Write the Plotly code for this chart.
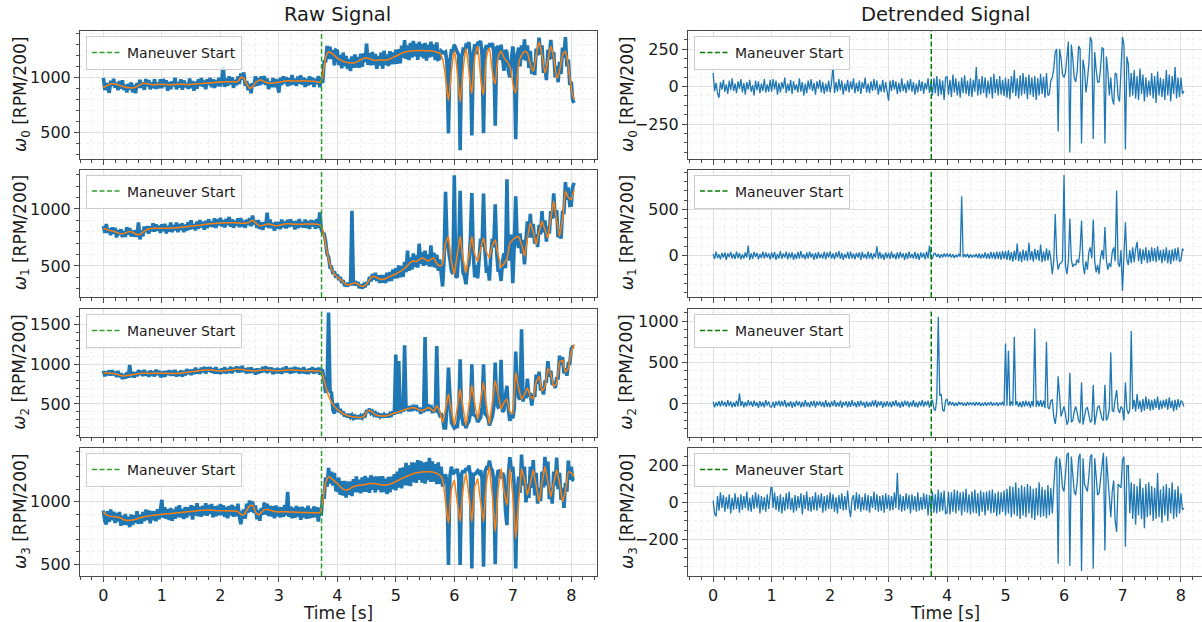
import numpy as np
import plotly.graph_objects as go

# ---------------------------------------------------------------------------
# Rotor speed data, sampled every 25 ms from 0.000 s to 8.050 s (323 samples,
# 40 per row = one second per row, plus the last three samples).
# TREND_* is the smoothed speed, DET_* the detrended residual; the raw speed
# is trend + residual.
# ---------------------------------------------------------------------------
TIME_STEP = 0.025
MANEUVER_T = 3.73

TREND_W0 = [
    905, 914, 922, 929, 935, 939, 942, 941, 940, 936, 932, 927, 922, 918, 914, 911, 908, 906, 904, 903, 903, 906, 910, 917, 925, 933, 940, 944, 946, 944, 942, 939, 936, 934, 933, 933, 934, 935, 936, 936,
    936, 935, 935, 934, 933, 932, 932, 933, 934, 935, 936, 937, 938, 937, 937, 936, 935, 934, 934, 935, 936, 937, 938, 939, 940, 941, 942, 943, 944, 945, 946, 947, 948, 949, 950, 951, 953, 954, 955, 956,
    957, 957, 958, 958, 959, 959, 960, 960, 960, 959, 958, 958, 962, 980, 1000, 998, 990, 968, 940, 918, 900, 905, 915, 932, 950, 962, 972, 974, 975, 969, 962, 956, 950, 947, 945, 946, 948, 950, 952, 953,
    955, 957, 960, 963, 966, 967, 968, 968, 967, 966, 966, 966, 966, 966, 967, 967, 968, 968, 967, 966, 966, 965, 965, 964, 963, 960, 958, 956, 955, 970, 1010, 1100, 1180, 1215, 1232, 1228, 1220, 1210, 1198, 1186,
    1175, 1166, 1158, 1151, 1145, 1141, 1138, 1135, 1132, 1131, 1130, 1131, 1133, 1138, 1145, 1152, 1160, 1166, 1172, 1175, 1176, 1174, 1170, 1165, 1160, 1156, 1152, 1153, 1155, 1158, 1160, 1158, 1156, 1157, 1158, 1163, 1168, 1174, 1180, 1186,
    1192, 1198, 1205, 1212, 1218, 1223, 1228, 1232, 1235, 1237, 1238, 1239, 1240, 1241, 1242, 1243, 1243, 1243, 1243, 1243, 1242, 1242, 1242, 1241, 1240, 1238, 1235, 1232, 1228, 1224, 1220, 1200, 1170, 1100, 1000, 880, 790, 900, 1050, 1160,
    1236, 1170, 1050, 900, 776, 900, 1060, 1180, 1260, 1180, 1050, 930, 850, 1020, 1180, 1250, 1280, 1160, 1000, 900, 842, 1020, 1180, 1240, 1265, 1170, 1050, 980, 940, 1070, 1180, 1220, 1236, 1210, 1180, 1160, 1145, 1125, 1100, 1030,
    950, 890, 858, 990, 1120, 1170, 1200, 1222, 1235, 1232, 1220, 1175, 1120, 1080, 1055, 1120, 1200, 1270, 1320, 1270, 1200, 1120, 1040, 1085, 1150, 1220, 1280, 1240, 1180, 1090, 994, 1015, 1060, 1130, 1200, 1225, 1236, 1180, 1100, 1000,
    900, 840, 797,
]
DET_W0 = [
    90, -30, 25, -45, -75, 30, -20, 45, -35, 15, -50, 40, -25, 55, -30, 20, -45, 35, -15, 50, -40, 25, -55, 30, -20, 45, -35, 10, -60, 40, -25, 35, -45, 20, -30, 50, -40, 15, -35, 45,
    -35, 50, -20, 40, -55, 25, -40, 30, -15, 60, -45, 20, -30, 45, -50, 35, -25, 15, -40, 55, -35, 30, -60, 20, -45, 40, -20, 50, -30, 25, -55, 35, -15, 45, -40, 30, -50, 20, -35, 40,
    -40, 25, 140, -45, 30, -35, 50, -25, 40, -55, 20, -30, 45, -40, 35, -20, 55, -45, 25, -35, 40, -50, 30, -15, 60, -40, 20, -45, 35, -30, 50, -25, 40, -55, 15, -35, 45, -40, 30, -20,
    -95, 40, -30, 45, -20, 35, -50, 25, -40, 55, -30, 20, -45, 40, -25, 50, -35, 30, -55, 20, -40, 45, -30, 35, -50, 25, -20, 55, -45, 30, -60, 55, -45, 70, -65, 50, -55, 40, -90, 60,
    65, -55, 45, -70, 80, -40, 55, -60, 35, -75, 60, -45, 75, -50, 40, -65, 55, -70, 45, -35, 130, -60, 50, -55, 70, -45, 60, -75, 40, -50, 65, -80, 85, -45, 50, -60, 70, -55, 45, -65,
    60, -75, 50, -85, 70, -45, 110, -65, 55, -80, 75, -60, 90, -50, 65, -85, 80, -55, 60, -70, 70, -90, 55, -60, 85, -50, 65, -75, 90, -60, -50, 40, 60, 120, 230, 250, -300, 250, 190, 80,
    60, 90, 180, 300, -440, 280, 190, 60, 30, 100, 270, 250, -380, 180, 120, -40, 40, 150, 330, 300, -350, 230, 110, 30, 30, 120, 260, 250, -380, 200, 100, -60, 60, -80, -120, 90, 80, -70, -100, 120,
    330, 280, -420, 200, 150, -70, 90, -60, 110, -80, 70, -90, 120, -50, 80, -100, 60, -70, 40, -60, 90, -80, 70, -110, 100, -60, 60, -70, 50, -90, 110, -60, 80, -100, 70, -50, 130, -80, 60, -70,
    60, -50, -30,
]

TREND_W1 = [
    830, 826, 822, 817, 812, 810, 808, 804, 800, 795, 790, 786, 782, 783, 785, 790, 795, 799, 802, 799, 795, 788, 780, 776, 772, 778, 785, 795, 805, 812, 820, 824, 828, 829, 830, 830, 830, 830, 830, 830,
    830, 830, 830, 830, 831, 831, 832, 832, 833, 834, 835, 836, 838, 839, 840, 841, 843, 844, 846, 848, 850, 851, 852, 853, 855, 856, 858, 860, 862, 864, 866, 867, 869, 870, 871, 872, 873, 874, 875, 876,
    877, 877, 878, 878, 879, 879, 880, 880, 880, 880, 879, 878, 877, 876, 875, 874, 874, 875, 876, 880, 885, 894, 902, 892, 880, 868, 858, 854, 852, 856, 860, 864, 868, 867, 866, 862, 858, 855, 852, 853,
    855, 858, 862, 865, 868, 869, 870, 870, 869, 868, 867, 866, 866, 866, 866, 866, 867, 867, 868, 868, 869, 869, 869, 869, 868, 867, 866, 863, 860, 845, 820, 760, 690, 620, 560, 515, 475, 450, 428, 414,
    400, 392, 383, 372, 360, 349, 338, 336, 335, 340, 345, 349, 352, 346, 340, 332, 325, 323, 322, 330, 340, 360, 380, 395, 408, 407, 405, 398, 392, 386, 381, 383, 385, 390, 395, 401, 408, 414, 420, 425,
    430, 437, 445, 452, 460, 470, 480, 492, 505, 518, 530, 538, 545, 541, 538, 546, 555, 563, 571, 566, 560, 550, 540, 550, 560, 566, 571, 545, 520, 509, 498, 505, 520, 610, 700, 730, 760, 650, 540, 480,
    425, 510, 600, 680, 760, 660, 560, 500, 440, 520, 600, 680, 760, 680, 600, 570, 541, 595, 650, 700, 746, 680, 620, 595, 571, 625, 680, 705, 731, 665, 600, 545, 489, 505, 520, 540, 560, 630, 700, 715,
    730, 740, 750, 755, 760, 725, 690, 640, 585, 660, 740, 810, 877, 840, 800, 745, 688, 745, 800, 846, 892, 856, 820, 783, 746, 833, 920, 995, 1067, 985, 900, 830, 760, 830, 900, 1030, 1155, 1130, 1100, 1090,
    1082, 1125, 1169,
]
DET_W1 = [
    20, -35, 45, -25, 15, -40, 30, -20, 35, -45, 25, -15, 40, -30, 20, -35, 45, -25, 30, -40, 15, -30, 35, -20, 110, -45, 25, -35, 40, -15, 30, -40, 20, -25, 45, -30, 35, -20, 25, -40,
    35, -25, 40, -45, 20, -30, 50, -35, 25, -20, 45, -40, 30, -25, 35, -45, 20, -35, 40, -30, 50, -25, 15, -40, 35, -30, 45, -20, 25, -45, 30, -35, 40, -25, 20, -30, 45, -40, 35, -20,
    45, -30, 25, -40, 35, -20, 50, -35, 30, -45, 20, -25, 40, -35, 45, -30, 25, -40, 30, -20, 35, -45, 40, -25, 20, -35, 45, -30, 30, -40, 25, -20, 100, -35, 40, -30, 20, -45, 35, -25,
    30, -35, 45, -25, 20, -40, 35, -30, 40, -20, 25, -45, 30, -35, 45, -25, 20, -30, 40, -35, 25, -45, 35, -20, 30, -40, 45, -30, 110, -25, -30, 20, 25, -15, 20, -25, 15, -20, 25, -15,
    25, -15, 20, -20, 15, -25, 10, -15, 20, -10, 640, -20, 15, -15, 20, -25, 15, -20, 10, -15, 20, -25, 25, -30, 20, -25, 35, -30, 25, -35, 40, -30, 35, -40, 45, -35, 40, -45, 50, -35,
    50, -45, 60, -50, 40, -65, 55, -45, 130, -60, 45, -70, 65, -50, 55, -60, 140, -45, 50, -65, 75, -40, 60, -55, 120, -70, 45, -60, 80, -50, 60, -40, -200, -50, 450, -10, -150, -90, -80, -50,
    870, -100, -200, -60, 400, -40, -120, -90, -100, -40, -80, 60, 380, -80, -200, -60, -150, 40, 90, -30, 390, -60, -180, -100, -200, -20, 60, -40, 310, -50, -150, -80, -120, 40, 90, -60, 700, -80, -120, 60,
    -380, -60, 360, -40, -100, 60, -80, 90, -70, 70, 150, -60, 80, -90, 70, -50, 90, -80, 60, -70, 90, -60, 80, -70, 100, -50, 60, -80, 70, -60, 90, -80, 60, -90, 70, -60, 80, -50, 90, -60,
    -50, 70, 60,
]

TREND_W2 = [
    887, 889, 890, 889, 888, 887, 885, 883, 880, 875, 870, 864, 858, 855, 853, 855, 858, 860, 861, 865, 868, 872, 875, 879, 882, 885, 887, 887, 887, 887, 886, 886, 885, 885, 886, 886, 887, 887, 887, 887,
    887, 887, 886, 886, 885, 885, 884, 884, 884, 884, 885, 886, 887, 888, 890, 892, 895, 898, 900, 902, 905, 908, 910, 913, 916, 918, 920, 922, 925, 927, 929, 929, 929, 928, 927, 925, 922, 920, 918, 917,
    916, 916, 917, 918, 920, 922, 925, 928, 930, 932, 935, 936, 937, 936, 935, 933, 930, 928, 925, 922, 920, 918, 915, 915, 915, 917, 920, 922, 925, 927, 929, 929, 929, 927, 925, 922, 920, 919, 918, 918,
    918, 919, 920, 922, 925, 927, 929, 929, 929, 928, 927, 926, 925, 923, 922, 921, 920, 919, 918, 918, 918, 918, 918, 918, 917, 916, 916, 916, 916, 900, 870, 800, 720, 660, 600, 560, 520, 495, 470, 450,
    433, 418, 405, 392, 380, 370, 360, 354, 348, 344, 340, 337, 335, 333, 332, 331, 330, 335, 345, 370, 395, 410, 420, 410, 395, 380, 365, 358, 352, 351, 350, 350, 349, 350, 352, 357, 362, 371, 380, 386,
    391, 395, 400, 408, 415, 422, 428, 434, 440, 445, 450, 452, 454, 450, 445, 435, 425, 420, 415, 423, 432, 444, 455, 448, 440, 422, 405, 445, 479, 450, 420, 340, 270, 350, 440, 540, 625, 520, 420, 320,
    229, 340, 450, 570, 687, 570, 450, 340, 229, 355, 480, 610, 737, 620, 500, 400, 312, 430, 550, 660, 771, 625, 480, 365, 250, 385, 520, 655, 792, 710, 620, 530, 437, 480, 520, 540, 562, 480, 400, 390,
    380, 640, 900, 800, 700, 630, 560, 590, 620, 660, 700, 650, 600, 580, 565, 670, 780, 815, 846, 750, 660, 690, 720, 835, 950, 915, 880, 800, 720, 740, 760, 895, 1030, 1040, 1050, 975, 900, 925, 950, 1050,
    1150, 1200, 1250,
]
DET_W2 = [
    30, -40, 20, -25, 35, -30, 40, -20, 25, -35, 45, -25, 30, -40, 20, -35, 40, -30, 130, -25, 35, -40, 25, -30, 45, -20, 30, -35, 40, -25, 20, -45, 35, -30, 25, -40, 45, -20, 30, -35,
    -35, 25, -45, 30, -20, 40, -30, 35, -25, 45, -40, 20, -30, 35, -45, 25, -35, 40, -20, 30, -40, 25, -35, 45, -30, 20, -40, 35, -25, 40, -45, 30, -20, 35, -30, 25, -40, 45, -35, 20,
    -40, 30, -25, 45, -35, 20, -30, 40, -45, 25, -20, 35, -40, 30, -35, 45, -25, 20, -40, 35, -30, 40, -20, 25, -45, 30, -35, 20, -30, 40, -25, 45, -40, 30, -20, 35, -45, 25, -30, 35,
    -30, 25, -40, 35, -25, 45, -30, 20, -45, 30, -35, 40, -20, 35, -40, 25, -30, 45, -35, 20, -40, 30, -25, 45, -35, 30, -20, 40, -45, 30, 50, -60, -80, 60, 1050, 100, 120, -70, -90, 40,
    60, -20, 30, -15, 20, -25, 15, -20, 25, -10, 20, -15, 10, -20, 25, -15, 20, -10, 15, -20, 25, -15, 20, -25, 10, -15, 20, -20, 15, -10, 25, -20, 15, -15, 20, -25, 15, -10, 25, -20,
    730, -20, 640, -25, 30, -20, 810, -15, 30, -35, 25, -40, 35, -30, 40, -25, 30, -45, 35, -30, 910, -35, 40, -30, 45, -35, 40, -50, 750, -40, -60, 40, 50, -150, -240, -100, 333, 100, -150, -90,
    -30, -120, -250, -200, 375, -220, -200, -90, -30, -100, -200, -230, 263, -250, -150, -60, -40, -120, -220, -200, 229, -250, -120, -40, -20, -100, -180, -200, 230, -200, -160, -60, 620, -80, -90, 60, 167, -60, -110, -30,
    -60, -200, 260, -60, -120, -70, 880, -60, 50, -90, 120, -60, 40, -100, 60, -80, 90, -60, 60, -80, 50, -70, 60, -50, 90, -70, 40, -60, 50, -40, 60, -70, 80, -50, 40, -90, 50, -70, 60, -40,
    40, 20, -30,
]

TREND_W3 = [
    920, 905, 895, 890, 885, 883, 882, 881, 880, 879, 878, 873, 868, 862, 856, 853, 850, 851, 852, 853, 854, 857, 860, 864, 868, 872, 875, 878, 880, 882, 884, 886, 888, 890, 892, 893, 894, 895, 896, 898,
    900, 901, 902, 903, 904, 905, 906, 907, 908, 909, 910, 911, 913, 914, 916, 917, 918, 919, 920, 921, 922, 923, 925, 926, 928, 929, 930, 931, 932, 932, 933, 933, 933, 932, 932, 931, 930, 929, 928, 928,
    928, 928, 928, 928, 928, 927, 926, 925, 925, 925, 926, 924, 920, 910, 900, 895, 895, 910, 930, 948, 965, 970, 973, 950, 920, 905, 895, 903, 915, 925, 935, 937, 939, 936, 932, 928, 925, 922, 920, 919,
    918, 919, 920, 920, 920, 920, 919, 918, 918, 918, 918, 917, 917, 916, 916, 915, 915, 914, 914, 914, 914, 913, 913, 913, 913, 912, 912, 912, 912, 940, 1000, 1080, 1150, 1180, 1200, 1195, 1185, 1175, 1165, 1155,
    1146, 1133, 1120, 1110, 1100, 1096, 1093, 1096, 1100, 1107, 1115, 1120, 1125, 1128, 1130, 1131, 1133, 1134, 1135, 1137, 1140, 1143, 1146, 1146, 1146, 1145, 1144, 1142, 1140, 1137, 1135, 1134, 1133, 1134, 1136, 1138, 1140, 1145, 1150, 1155,
    1160, 1166, 1172, 1179, 1186, 1190, 1195, 1200, 1205, 1210, 1215, 1220, 1226, 1228, 1230, 1232, 1235, 1236, 1238, 1238, 1239, 1239, 1240, 1240, 1239, 1237, 1235, 1230, 1225, 1219, 1213, 1200, 1180, 1100, 1000, 900, 827, 960, 1100, 1140,
    1173, 1090, 1000, 920, 840, 970, 1100, 1170, 1226, 1140, 1050, 945, 840, 980, 1120, 1150, 1186, 1090, 1000, 920, 840, 1000, 1150, 1220, 1279, 1160, 1050, 900, 761, 930, 1100, 1180, 1266, 1170, 1080, 1030, 973, 1120, 1266, 1160,
    1050, 880, 707, 850, 1000, 1130, 1266, 1220, 1180, 1115, 1053, 1100, 1150, 1200, 1253, 1190, 1130, 1065, 1000, 1075, 1150, 1215, 1279, 1220, 1160, 1100, 1040, 1095, 1150, 1200, 1253, 1200, 1150, 1075, 1000, 1040, 1080, 1160, 1239, 1235,
    1230, 1215, 1200,
]
DET_W3 = [
    10, -60, -75, 35, -45, 55, -30, 40, -50, 30, -35, 45, -60, 25, -40, 50, -35, 30, -55, 45, -40, 35, -30, 60, -45, 25, -50, 40, -35, 55, -30, 45, -60, 35, -40, 30, -50, 45, -35, 40,
    115, -30, 55, -40, 35, -50, 45, -60, 30, -45, 50, -35, 60, -40, 25, -55, 40, -45, 35, -30, 50, -65, 40, -35, 60, -45, 30, -50, 35, -40, 55, -45, 40, -30, 50, -55, 35, -45, 40, -35,
    55, -35, 45, -50, 30, -60, 40, -35, 50, -45, 35, -40, 65, -30, -80, 20, 40, -45, 55, -35, 45, -50, 30, -40, 50, -45, 40, -55, 35, -30, 60, -40, 45, -50, 35, -45, 40, -55, 50, -35,
    40, -45, 35, -40, 55, -30, 160, -40, 45, -50, 35, -45, 50, -35, 40, -60, 45, -40, 35, -50, 55, -45, 30, -40, 50, -35, 45, -70, 40, -50, 60, -55, 45, -60, 70, -50, 55, -45, 65, -60,
    -55, 60, -65, 55, -50, 70, -60, 65, -45, 55, -70, 60, -50, 75, -55, 45, -65, 60, -55, 70, -60, 50, -75, 65, -50, 55, -70, 60, -45, 65, -60, 70, -55, 50, -75, 60, -65, 55, -50, 65,
    -70, 75, -60, 90, -80, 85, -65, 110, -75, 80, -90, 95, -70, 85, -80, 100, -60, 90, -85, 75, -95, 80, -70, 110, -80, 85, -75, 70, -85, 95, -70, 80, -60, 80, 220, 250, -332, 240, 180, 80,
    60, 150, 260, 270, -345, 250, 150, 60, 40, 110, 240, 265, -372, 240, 100, 80, 60, 140, 250, 260, -359, 240, 120, 40, 50, 110, 200, 270, -260, 250, 150, 60, -80, 60, 120, -100, -160, 100, 90, 80,
    230, 250, -240, 200, 200, -60, 110, -90, 100, -120, 90, -70, 130, -90, 80, -140, 100, -80, 110, -70, 90, -100, 80, -90, 160, -80, 70, -110, 90, -70, 100, -100, 80, -60, 110, -90, 70, -80, 90, -60,
    50, -40, -30,
]

TRENDS = [TREND_W0, TREND_W1, TREND_W2, TREND_W3]
DETS = [DET_W0, DET_W1, DET_W2, DET_W3]
CHANNEL_IDS = ["0", "1", "2", "3"]

RAW_YRANGE = [[257, 1421], [228, 1346], [91, 1695], [407, 1429]]
DET_YRANGE = [[-483, 370], [-445, 929], [-392, 1145], [-399, 296]]
RAW_DTICK = [500, 500, 500, 500]
RAW_MINOR = [100, 100, 100, 100]
DET_DTICK = [250, 500, 500, 200]
DET_MINOR = [62.5, 100, 100, 50]

# ---------------------------------------------------------------------------
# Figure geometry (pixels in a 1202 x 622 page)
# ---------------------------------------------------------------------------
W, H = 1202, 622
COL_PX = [(80, 597), (688, 1202)]
ROW_PX = [(31, 159), (169.5, 297), (309, 436.5), (448, 576)]
X_RANGES = [[-0.40, 8.44], [-0.43, 8.36]]
COL_CENTER = [338, 945]

BLUE = "#1f77b4"
ORANGE = "#ff7f0e"
GREENS = ["#2ca02c", "#008000"]
FONT = "DejaVu Sans"
TEXT_COLOR = "#1a1a1a"
FRAME = "#4a4a4a"

fig = go.Figure()
layout = dict(
    width=W, height=H,
    margin=dict(l=0, r=0, t=0, b=0),
    paper_bgcolor="white", plot_bgcolor="white",
    showlegend=True,
    font=dict(family=FONT, color=TEXT_COLOR),
)
annotations = []

for r in range(4):
    trend = np.array(TRENDS[r], dtype=float)
    det = np.array(DETS[r], dtype=float)
    n = min(len(trend), len(det))
    trend, det = trend[:n], det[:n]
    t = np.arange(n) * TIME_STEP
    raw = trend + det
    for c in range(2):
        k = r * 2 + c + 1
        xname = "x" if k == 1 else f"x{k}"
        yname = "y" if k == 1 else f"y{k}"
        lname = "legend" if k == 1 else f"legend{k}"
        x0p, x1p = COL_PX[c]
        y0p, y1p = ROW_PX[r]

        if c == 0:
            fig.add_trace(go.Scatter(
                x=t, y=raw, mode="lines", xaxis=xname, yaxis=yname,
                line=dict(color=BLUE, width=3.6), showlegend=False, hoverinfo="skip"))
            fig.add_trace(go.Scatter(
                x=t, y=trend, mode="lines", xaxis=xname, yaxis=yname,
                line=dict(color=ORANGE, width=1.5, shape="spline", smoothing=0.5),
                showlegend=False, hoverinfo="skip"))
            yr, dt, mn = RAW_YRANGE[r], RAW_DTICK[r], RAW_MINOR[r]
        else:
            fig.add_trace(go.Scatter(
                x=t, y=raw - trend, mode="lines", xaxis=xname, yaxis=yname,
                line=dict(color=BLUE, width=1.3), showlegend=False, hoverinfo="skip"))
            yr, dt, mn = DET_YRANGE[r], DET_DTICK[r], DET_MINOR[r]

        # maneuver start marker, listed in this panel's own legend
        fig.add_trace(go.Scatter(
            x=[MANEUVER_T, MANEUVER_T], y=yr, mode="lines", xaxis=xname, yaxis=yname,
            line=dict(color=GREENS[c], width=1.5, dash="5px,2.5px"),
            name="Maneuver Start", legend=lname, showlegend=True, hoverinfo="skip"))

        common = dict(
            showline=True, mirror=True, linecolor=FRAME, linewidth=1,
            ticks="outside", ticklen=5, tickwidth=1, tickcolor=FRAME,
            showgrid=True, gridcolor="#e0e0e0", gridwidth=1, zeroline=False,
            tickfont=dict(family=FONT, size=16, color=TEXT_COLOR),
        )
        layout["xaxis" if k == 1 else f"xaxis{k}"] = dict(
            common, domain=[x0p / W, x1p / W], range=X_RANGES[c], anchor=yname,
            tick0=0, dtick=1, showticklabels=(r == 3),
            minor=dict(tick0=0, dtick=0.2, showgrid=True, gridcolor="#efefef",
                       griddash="dot", ticks="outside", ticklen=3, tickcolor=FRAME),
        )
        layout["yaxis" if k == 1 else f"yaxis{k}"] = dict(
            common, domain=[1 - y1p / H, 1 - y0p / H], range=yr, anchor=xname,
            tick0=0, dtick=dt,
            minor=dict(tick0=0, dtick=mn, showgrid=True, gridcolor="#efefef",
                       griddash="dot", ticks="outside", ticklen=3, tickcolor=FRAME),
        )
        layout[lname] = dict(
            x=(x0p + 6) / W, y=1 - (y0p + 5) / H, xanchor="left", yanchor="top",
            bgcolor="rgba(255,255,255,0.85)", bordercolor="#cccccc", borderwidth=1,
            font=dict(family=FONT, size=14, color=TEXT_COLOR),
            itemwidth=30, tracegroupgap=0,
        )

        # rotated y-axis label
        label_x = 21 if c == 0 else 628
        annotations.append(dict(
            text=f"<i>ω</i><sub>{CHANNEL_IDS[r]}</sub> [RPM/200]",
            x=label_x / W, y=1 - (y0p + y1p) / 2 / H, xref="paper", yref="paper",
            textangle=-90, showarrow=False, xanchor="center", yanchor="middle",
            font=dict(family=FONT, size=17, color=TEXT_COLOR)))

# column titles and x-axis titles
for c, title in enumerate(["Raw Signal", "Detrended Signal"]):
    cx = COL_CENTER[c]
    annotations.append(dict(
        text=title, x=cx / W, y=1 - 15 / H, xref="paper", yref="paper",
        showarrow=False, xanchor="center", yanchor="middle",
        font=dict(family=FONT, size=19.5, color=TEXT_COLOR)))
    annotations.append(dict(
        text="Time [s]", x=cx / W, y=1 - 613 / H, xref="paper", yref="paper",
        showarrow=False, xanchor="center", yanchor="middle",
        font=dict(family=FONT, size=17, color=TEXT_COLOR)))

layout["annotations"] = annotations
fig.update_layout(**layout)
fig.write_html("out.html")
